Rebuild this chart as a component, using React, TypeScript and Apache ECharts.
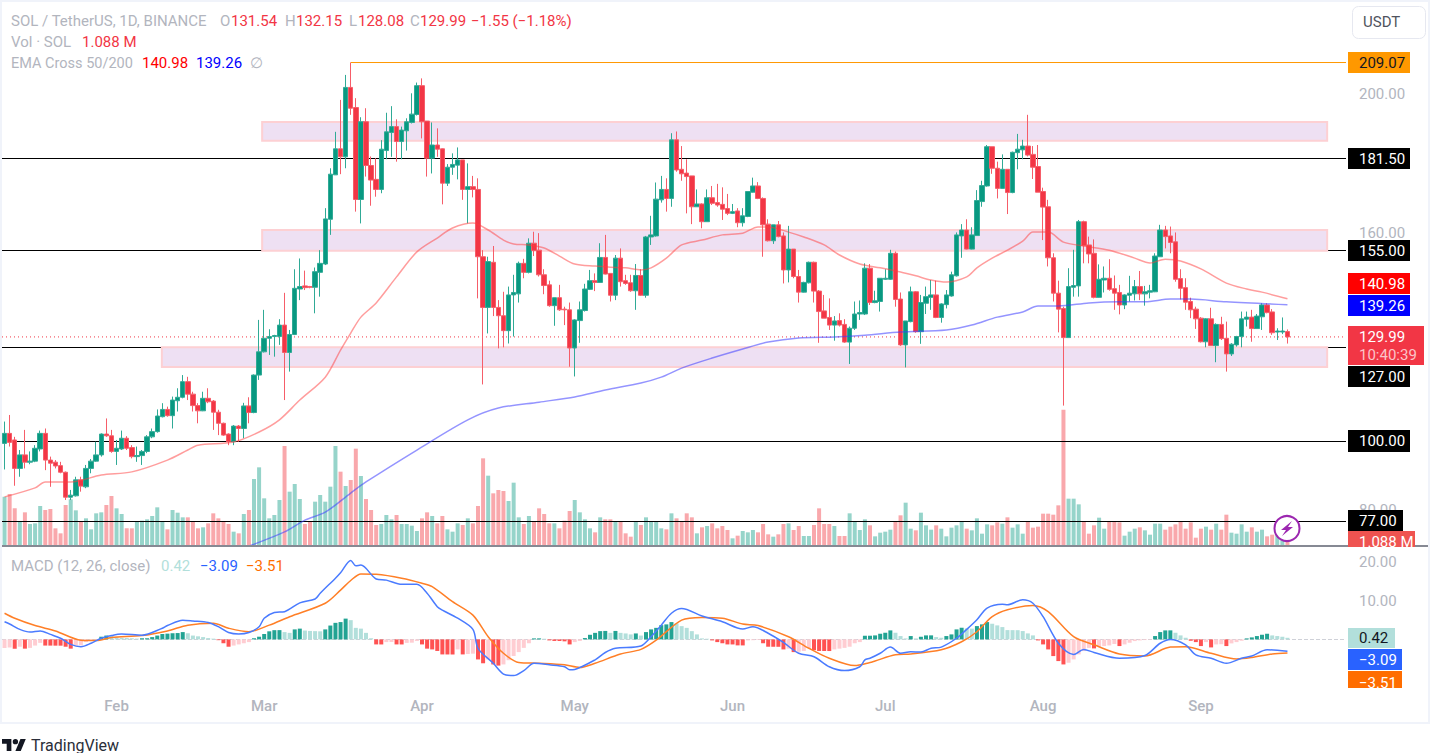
import React, { useEffect, useRef } from "react";
import * as echarts from "echarts";

const startDate = Date.UTC(2024, 0, 10);
const slotCount = 264;
const monthIdx = [22, 51, 82, 112, 143, 173, 204, 235];
const monthNames = ["Feb", "Mar", "Apr", "May", "Jun", "Jul", "Aug", "Sep"];

const opens = [
99.3,102.2,100.3,92.1,96.0,93.9,94.2,97.7,102.2,94.5,
93.9,92.9,91.0,83.8,84.2,88.8,86.8,92.1,94.2,96.0,
102.0,101.5,97.0,97.7,100.8,98.1,95.5,95.8,97.0,101.2,
102.7,107.0,109.1,107.3,111.6,112.6,117.1,113.5,110.2,108.7,
112.3,111.5,108.3,105.1,102.0,99.8,104.3,103.6,110.1,108.2,
119.0,125.7,129.6,130.1,130.1,133.4,125.5,130.7,143.8,144.7,
144.5,144.3,148.6,151.0,163.9,176.7,184.2,181.9,201.9,196.1,
169.6,192.0,179.4,175.4,172.5,183.7,188.9,190.6,186.3,189.4,
191.8,194.1,202.4,192.2,181.5,185.3,184.2,174.3,178.9,179.5,
181.0,172.5,173.3,172.5,153.1,138.5,151.5,138.5,136.1,131.8,
142.1,142.4,151.2,148.6,157.0,155.0,147.9,145.0,139.0,141.3,
138.0,137.8,126.8,134.7,137.6,143.7,146.2,145.7,152.9,148.3,
142.0,152.7,146.2,145.6,143.3,147.7,142.0,158.8,159.1,169.5,
172.5,169.9,186.8,178.3,177.2,176.4,167.5,168.3,163.2,170.1,
168.7,168.2,167.0,165.6,166.3,162.9,164.7,171.7,173.5,169.9,
162.5,157.7,162.3,159.1,149.3,155.3,147.4,142.9,145.6,151.5,
143.2,137.5,135.6,133.4,134.7,133.6,128.5,132.5,136.6,136.6,
149.8,139.9,140.2,146.6,146.6,154.1,140.9,127.7,134.4,143.0,
131.5,139.7,141.4,142.1,135.6,139.3,141.8,147.6,159.1,160.8,
155.3,159.2,169.0,173.5,184.8,178.6,172.8,178.3,171.6,183.1,
183.9,185.0,182.6,179.1,171.9,167.5,152.8,142.6,138.2,129.8,
144.3,144.7,163.2,156.5,154.1,141.4,146.4,146.9,143.9,142.8,
139.2,142.0,142.4,144.5,142.4,142.9,143.0,153.1,160.8,159.1,
157.4,146.8,144.2,140.2,138.0,135.4,128.6,135.2,127.5,133.6,
129.6,125.1,127.7,130.1,135.1,135.7,132.4,135.8,139.2,137.2,
131.4,131.4,131.54];

const closes = [
102.2,99.6,92.1,96.0,93.9,94.2,97.9,102.2,94.5,93.6,
92.8,91.0,83.8,84.4,88.8,87.0,92.1,94.2,96.0,102.0,
101.5,97.0,97.9,100.8,97.9,95.5,95.8,97.0,101.2,102.7,
107.2,109.1,107.3,111.8,112.6,117.1,113.5,110.2,108.7,112.3,
111.3,108.3,105.1,101.7,99.8,104.3,103.6,110.1,108.2,119.0,
125.7,129.6,130.1,130.4,133.4,125.5,130.7,144.0,144.5,144.2,
144.3,148.8,151.2,164.0,176.9,184.2,181.9,201.9,195.9,169.6,
192.0,179.4,175.2,172.5,184.1,189.1,190.6,186.3,189.6,192.0,
194.2,202.4,192.0,181.5,185.3,184.1,174.3,178.9,179.7,181.0,
172.5,173.3,172.5,153.1,138.5,151.7,138.5,136.1,131.8,142.1,
142.8,151.2,148.6,157.0,154.9,147.9,144.8,139.0,141.3,137.8,
137.8,126.8,134.9,137.8,143.8,146.2,145.7,152.9,148.1,142.0,
152.7,145.9,145.4,143.3,147.7,142.0,158.8,159.4,169.7,172.5,
169.9,186.8,178.1,177.0,176.2,167.5,168.3,163.2,170.1,168.5,
168.0,166.8,165.6,166.1,162.9,164.9,171.9,173.5,169.9,162.3,
157.7,162.3,158.9,149.3,155.3,147.4,142.9,145.7,151.5,143.2,
137.3,135.4,133.4,134.6,133.4,128.5,132.5,136.6,137.0,149.8,
139.9,140.4,146.9,146.9,154.1,140.8,127.7,134.6,143.0,131.5,
139.9,141.6,142.1,135.6,139.5,142.1,147.9,159.4,160.8,155.3,
159.4,169.3,173.6,184.8,178.6,172.8,178.3,171.6,183.2,184.1,
185.0,182.4,178.9,171.7,167.4,152.8,142.6,138.0,129.8,144.5,
144.8,163.2,156.3,153.9,141.4,146.6,146.9,143.7,142.6,139.2,
142.1,142.6,144.5,142.4,143.0,143.3,153.3,160.8,158.9,157.2,
146.6,144.0,140.0,137.8,135.2,128.6,135.2,127.5,133.6,129.5,
125.1,127.9,130.1,135.2,135.7,132.4,136.0,139.2,137.0,131.2,
131.7,131.7,129.99];

const highs = [
105.6,107.5,101.2,97.4,103.2,97.0,98.8,103.0,103.6,95.5,
94.5,94.0,91.2,85.9,89.7,89.7,93.1,94.8,99.8,102.2,
106.5,103.2,100.3,103.0,101.4,98.8,98.4,97.4,101.7,103.6,
109.1,110.9,109.9,112.8,115.2,119.0,118.5,114.2,110.9,114.2,
115.2,111.8,109.0,105.3,102.2,104.6,104.6,111.0,112.6,119.2,
134.9,137.8,132.2,130.6,135.1,142.7,132.0,149.5,152.6,149.1,
144.7,150.0,155.0,167.1,178.6,189.1,198.3,205.5,209.07,198.8,
193.3,195.9,182.0,181.5,186.7,194.6,196.5,192.7,190.6,193.0,
200.2,203.3,204.5,192.2,191.8,190.1,184.3,179.8,182.9,184.6,
181.0,180.0,176.4,175.7,155.0,153.1,156.2,140.6,143.0,144.5,
147.9,151.7,152.5,158.4,160.3,159.9,149.5,146.2,141.3,145.0,
138.7,139.9,135.1,140.2,145.3,149.3,148.3,157.0,159.4,148.3,
153.6,155.5,147.9,147.9,151.0,149.5,159.1,164.9,174.5,176.4,
175.7,188.7,189.2,185.0,181.2,176.4,172.5,168.5,172.5,173.5,
174.1,173.1,171.2,168.3,167.1,167.1,171.9,175.9,174.6,170.2,
163.9,162.3,163.4,160.1,162.0,155.3,149.3,145.9,151.7,151.7,
143.5,142.1,141.1,136.0,136.8,135.1,133.0,140.2,140.5,151.2,
151.0,143.3,146.9,149.5,155.1,154.6,142.8,134.6,144.5,143.2,
142.1,144.5,146.4,146.2,139.7,143.5,148.8,160.1,162.5,163.9,
161.6,172.3,175.0,185.3,184.8,180.5,182.6,178.3,183.4,188.5,
186.8,194.0,185.0,185.3,173.0,169.5,154.1,146.2,138.7,149.8,
155.1,163.7,163.5,158.9,158.1,150.9,150.3,152.4,147.7,145.0,
142.3,147.6,146.4,149.0,144.7,145.0,154.1,162.3,162.0,161.8,
160.1,149.5,146.9,141.3,138.7,135.7,135.4,138.4,133.9,135.8,
134.4,128.2,130.3,137.3,137.3,137.8,136.6,139.7,139.7,138.0,
132.5,135.6,132.15];

const lows = [
91.8,98.4,87.1,89.7,92.1,93.3,93.9,97.0,91.6,86.8,
92.1,90.7,83.0,83.0,84.0,85.4,86.4,90.7,94.0,95.5,
101.2,96.6,93.1,97.4,97.4,95.0,94.0,93.1,96.5,100.8,
102.4,106.8,107.0,103.6,108.5,112.3,111.8,108.5,105.1,108.6,
110.9,103.2,101.7,101.5,98.8,98.8,99.8,100.8,105.1,108.0,
117.6,125.5,124.8,124.3,127.7,111.8,120.0,130.5,140.6,143.5,
144.0,136.8,141.6,150.7,159.4,176.7,176.9,178.6,194.0,166.1,
162.7,176.2,167.8,170.4,171.4,181.2,181.9,180.5,181.2,183.7,
191.5,193.8,187.2,176.2,177.1,181.9,168.2,173.5,176.7,175.4,
169.5,162.7,170.2,141.1,116.3,131.0,136.0,126.7,127.0,128.1,
130.1,139.9,146.9,148.3,153.3,147.4,142.3,138.7,133.2,137.5,
133.4,121.4,118.6,128.3,137.3,143.5,143.2,145.6,148.0,140.2,
140.6,144.5,145.0,143.0,137.8,141.8,141.3,156.5,158.9,168.7,
166.1,167.5,177.6,175.0,165.6,162.5,167.5,161.3,163.2,168.0,
167.5,163.7,165.1,165.4,161.6,161.8,164.5,171.6,169.7,153.1,
157.5,156.8,158.7,145.4,145.7,146.9,139.9,142.8,145.4,139.9,
128.3,135.4,132.0,128.9,133.0,128.3,122.2,132.0,134.9,136.3,
139.2,139.7,137.3,146.4,146.4,138.7,127.4,121.2,134.2,131.2,
128.0,136.6,137.8,135.4,134.1,138.2,141.6,147.4,152.8,155.2,
155.2,159.1,167.5,173.3,177.0,169.9,172.8,165.4,171.4,178.3,
181.2,182.0,175.5,171.7,157.9,150.3,140.2,131.3,110.2,129.8,
141.6,141.6,151.2,151.2,141.1,141.3,142.8,143.3,137.8,136.5,
138.0,140.2,140.5,140.6,139.0,141.1,142.9,153.1,155.5,154.1,
145.9,140.8,137.8,135.4,132.3,128.4,127.0,127.4,122.7,129.1,
120.0,124.5,127.2,127.0,133.0,128.6,132.3,132.0,136.8,130.6,
129.1,130.8,128.08];

const volumes = [
5.92,6.24,4.52,2.92,4.04,2.64,2.72,4.8,4.32,4.44,
2.12,1.52,4.92,5.6,4.28,2.92,3.32,2.0,3.92,4.04,
4.92,6.0,4.52,3.84,2.12,2.12,2.92,3.04,3.2,3.6,
4.64,2.92,2.0,4.32,4.0,3.44,3.44,2.92,2.12,2.24,
2.72,3.92,3.32,2.92,2.64,1.72,1.52,3.84,4.32,8.04,
9.44,5.72,3.32,3.72,5.52,12.0,6.52,7.44,5.64,2.64,
2.92,5.32,6.12,5.32,7.12,12.0,8.92,7.2,7.92,11.68,
8.4,5.64,4.32,2.52,2.64,3.72,3.2,3.72,2.64,2.64,
2.44,1.8,3.32,4.04,3.6,2.72,3.6,2.0,1.72,2.72,
2.52,3.32,2.72,4.8,10.52,8.44,6.32,6.72,6.6,5.4,
7.6,3.44,2.64,3.6,3.0,4.52,3.84,2.72,2.72,2.12,
3.04,4.2,5.52,4.04,3.2,2.12,1.64,3.44,3.2,3.2,
2.92,3.0,1.52,1.12,3.0,2.52,3.44,3.0,3.0,2.12,
2.0,3.92,3.32,2.92,3.92,3.44,1.52,2.24,2.4,2.72,
2.12,2.4,1.92,0.92,1.24,1.8,1.64,1.92,1.64,2.64,
1.4,1.12,1.4,2.64,2.72,1.92,2.4,1.2,1.2,2.52,
4.52,2.64,2.64,2.4,1.2,1.2,3.92,2.92,1.92,3.2,
2.48,1.16,1.6,1.72,1.96,3.0,3.68,5.2,2.08,1.88,
4.0,2.48,1.96,2.48,2.08,1.16,2.2,2.48,2.88,2.08,
1.88,3.32,1.48,2.6,2.48,2.84,2.68,3.44,2.2,2.6,
1.48,2.88,2.2,2.32,3.88,3.88,3.76,4.88,16.36,5.68,
5.68,5.0,2.96,1.48,2.48,3.4,2.08,2.88,2.96,2.84,
1.24,1.72,2.08,2.24,1.88,1.36,2.68,2.68,1.96,2.32,
2.6,2.96,2.08,2.84,1.0,2.08,2.32,1.96,2.68,1.96,
3.76,1.6,1.48,2.6,1.72,2.24,1.72,1.96,1.16,1.36,
1.28,0.68,1.088];

const emaFastIdx = [0,6,8,13,19,25,32,36,38,45,50,54,58,63,66,68,70,73,77,81,85,88,92,95,98,100,103,106,109,112,116,119,122,125,127,130,133,137,141,145,148,150,154,157,161,164,168,172,176,179,182,185,189,191,194,197,200,202,205,208,212,217,222,225,228,231,235,240,244,247,252];
const emaFast = [83.9,86.5,88.2,88.2,90.2,91.1,94.5,97.4,98.8,99.7,102.6,106.1,111.8,118.4,126.2,131.1,135.7,139.8,147.3,154.5,158.5,161.4,162.8,160.8,157.9,156.8,156.5,155.6,153.3,151.0,150.4,150.1,149.9,149.3,149.9,152.7,156.5,157.9,159.4,159.9,161.7,161.7,160.2,158.8,156.5,153.6,151.0,149.9,148.7,147.6,146.4,145.8,147.3,149.9,152.7,155.0,157.6,160.2,160.2,157.3,156.2,155.0,152.7,151.3,152.4,151.9,149.6,145.5,143.8,142.9,140.98];

const emaSlowIdx = [48,55,59,63,68,71,81,91,97,105,112,118,125,129,133,139,145,150,156,163,169,176,185,190,195,200,203,207,213,219,224,229,233,240,252];
const emaSlow = [69.7,73.8,77.2,79.5,85.0,88.2,97.4,106.1,109.5,111.2,112.7,114.7,116.7,118.4,121.0,123.9,126.5,128.5,129.7,130.0,130.5,131.4,132.0,133.4,135.7,137.2,138.9,138.9,139.8,140.1,140.1,140.9,140.9,140.1,139.26];

const macdIdx = [0,1,3,5,7,9,11,13,15,17,19,21,23,27,31,32,35,37,40,42,44,46,48,50,51,53,55,58,61,62,65,66,68,69,70,73,75,78,81,83,85,86,89,92,93,96,98,100,102,104,107,110,111,112,116,118,120,125,127,129,131,133,137,141,145,147,150,153,156,159,162,165,168,169,170,172,174,176,178,180,182,184,187,189,191,193,196,197,200,202,204,207,210,212,214,219,224,227,229,232,234,237,240,243,245,248,252];
const macdLine = [4.6,4.0,2.6,1.9,2.2,1.3,0.3,-1.3,-1.9,-1.0,0.3,1.0,1.4,1.1,2.9,3.6,5.0,4.8,4.4,3.3,1.8,1.4,1.8,3.3,5.5,7.0,7.2,9.5,10.5,12.0,15.9,17.3,20.5,19.1,19.3,15.7,15.4,14.3,14.3,12.0,8.5,7.6,5.5,2.6,-2.3,-6.2,-9.0,-9.4,-8.1,-6.2,-6.6,-7.1,-7.9,-7.8,-5.3,-3.4,-2.3,-1.7,0.7,3.7,6.8,8.0,6.1,4.6,2.7,3.3,1.6,-0.8,-3.6,-4.5,-7.1,-8.1,-7.1,-5.3,-4.9,-3.6,-2.0,-3.6,-3.2,-3.3,-2.3,-2.0,0.3,2.6,5.1,8.1,9.1,9.0,10.3,9.4,5.9,-1.0,-3.9,-2.6,-3.4,-4.9,-4.2,-1.0,0.0,-1.4,-4.0,-4.9,-6.2,-4.9,-4.3,-2.7,-3.09];

const signalIdx = [0,2,6,10,15,18,21,27,32,36,41,44,48,52,56,63,66,68,70,73,78,82,84,88,92,95,98,101,105,110,113,116,121,125,128,133,137,141,145,148,154,158,162,167,170,171,175,178,184,188,191,194,197,202,205,210,214,219,224,229,232,237,242,245,249,252];
const signalLine = [6.8,5.5,3.6,2.2,-0.2,-0.3,0.5,1.0,2.2,3.7,4.2,2.9,2.0,3.7,5.9,9.4,12.8,15.3,17.0,16.9,15.9,14.6,13.7,9.8,6.3,0.7,-3.6,-6.0,-6.2,-6.6,-7.3,-6.2,-3.8,-2.6,-0.2,5.0,5.7,5.5,4.0,3.6,0.7,-2.3,-4.9,-6.8,-6.0,-5.6,-4.0,-3.8,-2.7,-0.6,2.0,5.9,7.7,8.8,7.2,0.7,-1.4,-3.8,-4.3,-2.0,-1.9,-3.6,-5.1,-4.7,-3.8,-3.51];

const histogram = [
-2.2,-2.1,-2.4,-1.9,-2.4,-2.2,-1.6,-0.9,-1.6,-1.61,-1.62,-1.63,-1.9,-2.4,-1.6,-1.5,-0.7,-0.4,-0.2,0.7,1.0,0.9,0.6,0.4,0.35,0.3,0.2,0.3,0.3,
0.6,1.0,1.4,1.5,1.6,1.65,1.9,1.6,1.0,0.8,0.6,0.35,0.2,-0.2,-1.0,-1.9,-1.6,-1.3,-1.0,-0.7,
0.3,0.7,1.4,2.1,2.4,2.41,1.9,1.7,2.6,2.8,2.3,2.2,2.15,2.1,2.6,3.6,4.3,4.5,5.4,5.0,3.0,2.8,1.7,0.3,-1.3,-1.31,-0.7,-0.68,-1.3,-1.31,-0.9,-0.85,-0.4,-1.3,-2.4,-2.6,-3.0,
-3.9,-3.91,-3.92,-2.6,-3.9,-3.8,-3.7,-5.2,-6.2,-5.2,-6.5,-6.8,-6.5,-5.4,-4.3,-3.3,-2.2,-1.0,0.26,0.27,0.17,-0.26,-0.4,-0.41,-0.5,-1.3,-0.7,-0.4,0.35,1.2,1.7,2.15,2.2,1.7,2.2,1.7,1.55,1.3,1.55,1.0,1.9,2.6,3.0,3.7,3.9,4.5,4.15,3.45,3.0,2.15,1.3,0.26,0.17,-0.26,-0.7,-1.0,-1.3,-1.31,-1.55,-1.56,-0.26,-0.2,-0.15,-1.0,-1.9,-1.91,-1.92,-2.6,-2.4,-3.3,-3.2,-3.0,-2.2,-2.8,-3.0,-3.01,-3.02,-2.6,-2.4,-2.2,-1.9,-1.0,-0.7,
0.95,0.96,1.04,1.47,1.73,2.34,1.73,0.87,0.26,0.87,0.26,0.69,1.04,1.05,0.61,0.43,0.87,1.3,2.6,3.03,2.86,2.8,3.46,3.9,4.5,4.07,3.64,3.2,2.42,2.41,2.4,2.17,1.56,1.04,-0.26,-1.3,-2.6,-4.33,-5.63,-6.5,-6.06,-5.2,-3.9,-3.03,-2.2,-2.34,-1.9,-1.73,-1.56,-1.2,-1.73,-1.3,-0.87,-0.43,-0.26,-0.17,-0.1,0.87,1.9,2.34,2.35,1.73,1.04,0.43,-0.35,-0.7,-1.73,-0.7,-2.08,-1.3,-1.25,-1.73,-1.04,-0.7,-0.35,0.26,0.52,0.87,1.21,1.47,1.04,0.87,0.69,0.42];

const levelLines = [181.5, 155, 127, 100, 77];
const topLevel = 209.07;
const lastPrice = 129.99;
const priceTicks = [200, 160, 80];
const macdTicks = [20, 10];
const zones = [
  { from: 50.6, to: 259.8, top: 191.9, bottom: 186.5 },
  { from: 50.6, to: 259.8, top: 160.8, bottom: 154.8 },
  { from: 30.9, to: 259.8, top: 127.0, bottom: 121.3 },
];

const UP = "#089981";
const DOWN = "#f23645";
const GREY = "#b2b5be";
const FONT = "Roboto";

const LOGO_D = "M14 22H7V11H0V4h14v18zM28 22h-8l7.5-18h8L28 22zM20 12a4 4 0 1 0 0-8 4 4 0 0 0 0 8z";

const text = (x: number, y: number, s: string, fill: string, extra: any = {}) => ({
  type: "text",
  x,
  y,
  z: extra.z ?? 110,
  style: {
    text: s,
    fill,
    fontFamily: FONT,
    fontSize: extra.size ?? 15,
    fontWeight: extra.weight ?? 400,
    align: extra.align ?? "left",
    verticalAlign: "middle",
  },
});
const box = (x: number, y: number, w: number, h: number, fill: string, z = 100, r = 0) => ({
  type: "rect",
  z,
  shape: { x, y, width: w, height: h, r },
  style: { fill },
  silent: true,
});
const tag = (x: number, y: number, w: number, h: number, fill: string, s: string, color = "#ffffff") => [
  box(x, y, w, h, fill),
  text(1359, y + h / 2, s, color),
];

export default function App() {
  const ref = useRef<HTMLDivElement>(null);
  useEffect(() => {
    if (!ref.current) return;
    echarts.graphic.registerShape("tvlogo", echarts.graphic.extendPath(LOGO_D, {}) as any);
    const chart = echarts.init(ref.current, undefined, { renderer: "svg" });
    const categories = Array.from({ length: slotCount }, (_, i) =>
      new Date(startDate + i * 86400000).toISOString().slice(0, 10)
    );
    const candles = opens.map((o, i) => [o, closes[i], lows[i], highs[i]]);
    const pairs = (xs: number[], ys: number[]) => xs.map((x, i) => [x, ys[i]]);

    const priceTop = 6;
    const paneBottom = 546;
    const priceMax = 100 + (441 - priceTop) / 3.47;
    const priceMin = 100 - (paneBottom - 441) / 3.47;

    const graphic: any[] = [
      box(0, 0, 1430, 2, "#f0f3fa", 50),
      box(0, 0, 2, 724, "#f0f3fa", 50),
      box(1428, 0, 2, 724, "#f0f3fa", 50),
      box(0, 722, 1430, 2, "#f0f3fa", 50),
      box(2, 545, 1426, 2, "#868993", 90),
      { type: "rect", z: 100, shape: { x: 1352.5, y: 6.5, width: 73, height: 32, r: 6 }, style: { fill: "#fff", stroke: "#e6e8f0", lineWidth: 1 } },
      text(1363, 22, "USDT", "#50535e"),

      text(11, 21, "SOL / TetherUS, 1D, BINANCE", GREY),
      text(220, 21, "O", GREY), text(231, 21, "131.54", DOWN),
      text(285, 21, "H", GREY), text(296, 21, "132.15", DOWN),
      text(349, 21, "L", GREY), text(358, 21, "128.08", DOWN),
      text(410, 21, "C", GREY), text(420, 21, "129.99", DOWN),
      text(471, 21, "−1.55 (−1.18%)", DOWN),
      text(11, 42, "Vol · SOL", GREY), text(82, 42, "1.088 M", DOWN),
      text(11, 63, "EMA Cross 50/200", GREY, { size: 14.5 }), text(142, 63, "140.98", "#ff0000"), text(196, 63, "139.26", "#0000ff"), text(250, 63, "∅", GREY),
      text(11, 566, "MACD (12, 26, close)", GREY), text(161, 566, "0.42", "#b2dfdb"), text(200, 566, "−3.09", "#2962ff"), text(246, 566, "−3.51", "#ff6d00"),

      ...tag(1348, 52, 62, 21, "#ff9800", "209.07", "#131722"),
      ...tag(1348, 148, 62, 21, "#000000", "181.50"),
      ...tag(1348, 240, 62, 21, "#000000", "155.00"),
      ...tag(1348, 273, 62, 21, "#ff0000", "140.98"),
      ...tag(1348, 295, 62, 21, "#0000ff", "139.26"),
      box(1348, 326, 76, 39, "#f23645"),
      text(1359, 337, "129.99", "#ffffff"),
      text(1359, 355, "10:40:39", "#fbc4c9"),
      ...tag(1348, 366, 62, 21, "#000000", "127.00"),
      ...tag(1348, 430, 62, 22, "#000000", "100.00"),
      ...tag(1348, 510, 55, 21, "#000000", "77.00"),
      box(1348, 531, 67, 16, "#ef5350"),
      text(1359, 542, "1.088 M", "#ffffff"),
      box(1348, 547, 80, 6, "#ffffff", 112),
      ...tag(1348, 628, 47, 20, "#b2dfdb", "0.42", "#131722"),
      ...tag(1348, 649, 54, 21, "#2962ff", "−3.09"),
      box(1348, 671, 54, 17, "#ff6d00"),
      text(1359, 683, "−3.51", "#ffffff"),
      box(1348, 688, 60, 8, "#ffffff", 112),

      { type: "circle", z: 100, shape: { cx: 1287, cy: 528.5, r: 12.5 }, style: { fill: "#fff", stroke: "#9c27b0", lineWidth: 2 } },
      { type: "polygon", z: 101, shape: { points: [[1292, 521], [1281, 530], [1286, 530], [1282, 536], [1293, 527], [1288, 527]] }, style: { fill: "#9c27b0" } },

      { type: "tvlogo", z: 100, x: 2, y: 736.3, scaleX: 0.67, scaleY: 0.67, style: { fill: "#131722" } },
      text(31, 745, "TradingView", "#2a2e39", { size: 16 }),
    ];

    chart.setOption({
      animation: false,
      backgroundColor: "#ffffff",
      grid: [
        { left: 2, width: 1344, top: priceTop, height: paneBottom - priceTop },
        { left: 2, width: 1344, top: 548, height: 142 },
      ],
      xAxis: [
        { type: "category", gridIndex: 0, data: categories, show: false },
        {
          type: "category",
          gridIndex: 1,
          data: categories,
          axisLine: { show: false },
          axisTick: { show: false },
          axisLabel: {
            interval: (i: number) => monthIdx.includes(i),
            formatter: (_: string, i: number) => {
              const k = monthIdx.indexOf(i);
              return k >= 0 ? monthNames[k] : "";
            },
            color: GREY,
            fontFamily: FONT,
            fontSize: 15,
            fontWeight: 500,
            margin: 8,
          },
        },
        { type: "value", gridIndex: 0, min: -0.5, max: slotCount - 0.5, show: false },
      ],
      yAxis: [
        {
          type: "value",
          gridIndex: 0,
          position: "right",
          min: priceMin,
          max: priceMax,
          axisLine: { show: false },
          axisTick: { show: false },
          splitLine: { show: false },
          axisLabel: {
            customValues: priceTicks,
            formatter: (v: number) => v.toFixed(2),
            color: GREY,
            fontFamily: FONT,
            fontSize: 15,
            margin: 13,
          },
        },
        { type: "value", gridIndex: 0, min: 0, max: (paneBottom - priceTop) * 0.12, show: false },
        {
          type: "value",
          gridIndex: 1,
          position: "right",
          min: -13.14,
          max: 23.74,
          axisLine: { show: false },
          axisTick: { show: false },
          splitLine: { show: false },
          axisLabel: {
            customValues: macdTicks,
            formatter: (v: number) => v.toFixed(2),
            color: GREY,
            fontFamily: FONT,
            fontSize: 15,
            margin: 13,
          },
        },
      ],
      series: [
        {
          name: "Volume",
          type: "bar",
          xAxisIndex: 0,
          yAxisIndex: 1,
          z: 1,
          barWidth: 4,
          data: volumes.map((v, i) => ({
            value: v,
            itemStyle: { color: closes[i] >= opens[i] ? "#96d4ca" : "#f9a8ac" },
          })),
        },
        {
          name: "Levels",
          type: "line",
          xAxisIndex: 0,
          yAxisIndex: 0,
          z: 2,
          data: [],
          markLine: {
            z: 2,
            silent: true,
            symbol: "none",
            label: { show: false },
            lineStyle: { color: "#000000", width: 1, type: "solid" },
            data: levelLines.map((y) => ({ yAxis: y })),
          },
        },
        {
          name: "Last",
          type: "line",
          xAxisIndex: 2,
          yAxisIndex: 0,
          z: 2,
          symbol: "none",
          lineStyle: { color: "#f23645", width: 1, type: [1, 3] },
          data: [[-0.5, lastPrice], [slotCount - 0.5, lastPrice]],
        },
        {
          name: "High",
          type: "line",
          xAxisIndex: 2,
          yAxisIndex: 0,
          z: 2,
          symbol: "none",
          lineStyle: { color: "#ff9800", width: 1 },
          data: [[68, topLevel], [slotCount - 0.5, topLevel]],
        },
        {
          name: "Zones",
          type: "line",
          xAxisIndex: 2,
          yAxisIndex: 0,
          z: 3,
          symbol: "none",
          data: [[0, 100]],
          lineStyle: { opacity: 0 },
          markArea: {
            z: 3,
            silent: true,
            itemStyle: { color: "#eee0f3", borderColor: "#fdd0d3", borderWidth: 2 },
            data: zones.map((r) => [
              { xAxis: r.from, yAxis: r.top },
              { xAxis: r.to, yAxis: r.bottom },
            ]),
          },
        },
        {
          name: "SOL",
          type: "candlestick",
          xAxisIndex: 0,
          yAxisIndex: 0,
          z: 4,
          barWidth: 5,
          itemStyle: { color: UP, color0: DOWN, borderColor: "#30aa96", borderColor0: "#f65d69", borderWidth: 1 },
          data: candles,
        },
        {
          name: "EMA 50",
          type: "line",
          xAxisIndex: 0,
          yAxisIndex: 0,
          z: 5,
          symbol: "none",
          smooth: 0.3,
          lineStyle: { color: "rgba(255,60,60,0.5)", width: 1.5 },
          data: pairs(emaFastIdx, emaFast),
        },
        {
          name: "EMA 200",
          type: "line",
          xAxisIndex: 0,
          yAxisIndex: 0,
          z: 5,
          symbol: "none",
          smooth: 0.3,
          lineStyle: { color: "rgba(60,60,255,0.55)", width: 1.5 },
          data: pairs(emaSlowIdx, emaSlow),
        },
        {
          name: "Histogram",
          type: "bar",
          xAxisIndex: 1,
          yAxisIndex: 2,
          z: 2,
          barWidth: 4,
          data: histogram.map((v, i) => {
            const prev = i > 0 ? histogram[i - 1] : v;
            const color = v >= 0 ? (v >= prev ? "#22a393" : "#b2dfdb") : v < prev ? "#ff5252" : "#ffcdd2";
            return { value: v, itemStyle: { color } };
          }),
          markLine: {
            z: 1,
            silent: true,
            symbol: "none",
            label: { show: false },
            lineStyle: { color: "#cfd1d8", type: "dashed", width: 1 },
            data: [{ yAxis: 0 }],
          },
        },
        {
          name: "Signal",
          type: "line",
          xAxisIndex: 1,
          yAxisIndex: 2,
          z: 3,
          symbol: "none",
          smooth: 0.3,
          lineStyle: { color: "#ff7f27", width: 1.5 },
          data: pairs(signalIdx, signalLine),
        },
        {
          name: "MACD",
          type: "line",
          xAxisIndex: 1,
          yAxisIndex: 2,
          z: 3,
          symbol: "none",
          smooth: 0.3,
          lineStyle: { color: "#4a7bff", width: 1.5 },
          data: pairs(macdIdx, macdLine),
        },
      ],
      graphic: { elements: graphic },
    });
    return () => chart.dispose();
  }, []);
  return <div ref={ref} style={{ position: "fixed", left: 0, top: 0, width: 1432, height: 753, overflow: "hidden" }} />;
}
